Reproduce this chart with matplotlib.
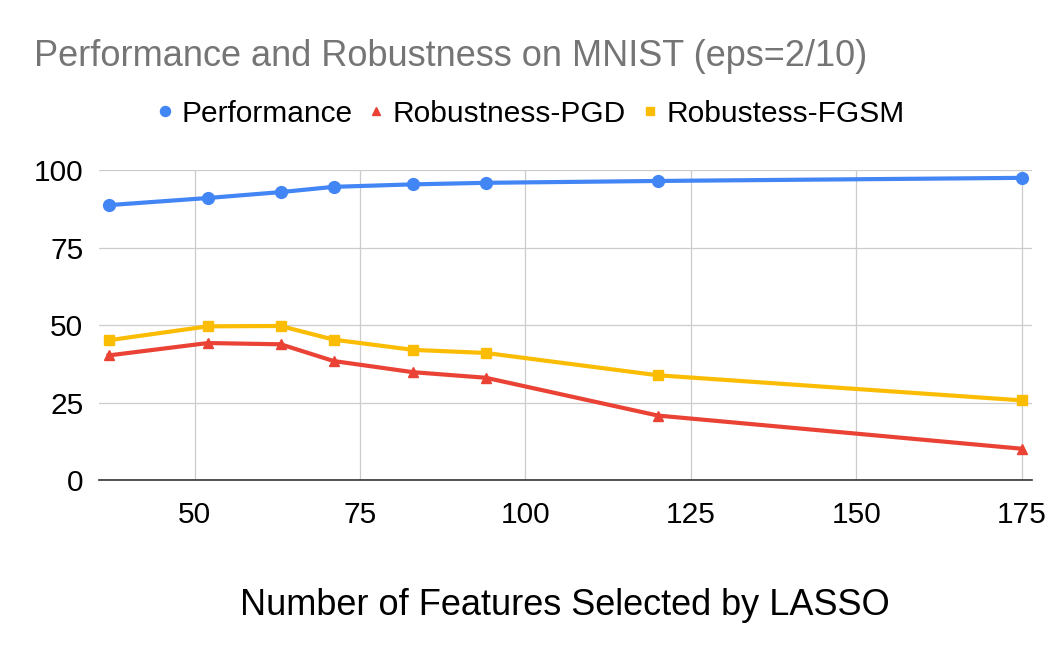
import matplotlib
matplotlib.use("Agg")
import matplotlib.pyplot as plt

plt.rcParams['font.family'] = ['Liberation Sans', 'DejaVu Sans']

# Dados
n_features = [37, 52, 63, 71, 83, 94, 120, 175]
performance = [88.8, 91.1, 93.0, 94.7, 95.5, 96.0, 96.6, 97.6]
robust_pgd = [40.3, 44.3, 43.9, 38.5, 34.9, 33.1, 20.9, 10.2]
robust_fgsm = [45.2, 49.7, 49.8, 45.4, 42.1, 41.1, 33.9, 25.8]

x_ticks = [50, 75, 100, 125, 150, 175]
y_ticks = [0, 25, 50, 75, 100]

azul = "#4285F4"
vermelho = "#EA4335"
amarelo = "#FBBC04"

fig = plt.figure(figsize=(10.62, 6.58), dpi=100)
ax = fig.add_axes([0.0929, 0.270, 0.8786, 0.471])

ax.plot(n_features, performance, color=azul, lw=3, marker="o", ms=8.5,
        label="Performance", clip_on=False, zorder=4)
ax.plot(n_features, robust_pgd, color=vermelho, lw=3, marker="^", ms=7.5,
        label="Robustness-PGD", clip_on=False, zorder=3)
ax.plot(n_features, robust_fgsm, color=amarelo, lw=3, marker="s", ms=6.5,
        label="Robustess-FGSM", clip_on=False, zorder=3)

ax.set_xlim(35.5, 176.5)
ax.set_ylim(0, 100)
ax.set_xticks(x_ticks)
ax.set_yticks(y_ticks)
ax.grid(True, color="#cccccc", lw=0.9)
ax.set_axisbelow(True)
for s in ["top", "right", "left"]:
    ax.spines[s].set_visible(False)
ax.spines["bottom"].set_color("#333333")
ax.spines["bottom"].set_linewidth(1.2)
ax.spines["bottom"].set_zorder(5)
ax.tick_params(axis="both", length=0, labelsize=21.5, colors="#000000")
ax.tick_params(axis="x", pad=15)
ax.tick_params(axis="y", pad=11)

ax.set_xlabel("Number of Features Selected by LASSO", fontsize=26, labelpad=42)

fig.text(34 / 1062, 1 - 66 / 658, "Performance and Robustness on MNIST (eps=2/10)",
         fontsize=26, color="#757575", ha="left", va="baseline")

leg = fig.legend(loc="center", bbox_to_anchor=(0.499, 0.827), ncol=3,
                 frameon=False, fontsize=21.5, handlelength=0.6, handletextpad=0.25,
                 columnspacing=0.5, markerscale=0.85)
for h in leg.legend_handles:
    h.set_linestyle("none")

fig.savefig("out.png", dpi=100)
